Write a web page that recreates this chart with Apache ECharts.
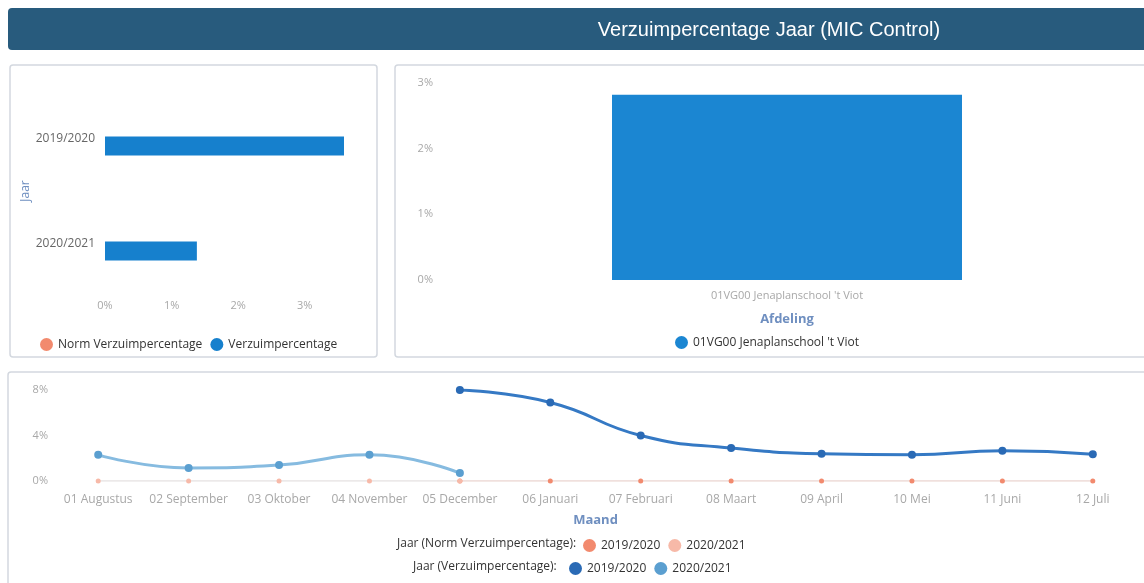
<!DOCTYPE html>
<html>
<head>
<meta charset="utf-8">
<script src="https://cdn.jsdelivr.net/npm/echarts@6/dist/echarts.min.js"></script>
<style>
    html, body { margin: 0; padding: 0; background: #fff; }
    #main { width: 1144px; height: 583px; }
</style>
</head>
<body>
<div id="main"></div>
<script>
var myChart = echarts.init(document.querySelector('#main'));

// verzuim per jaar
var jaren = ['2019/2020', '2020/2021'];
var normJaar = [0, 0];
var verzuimJaar = [3.59, 1.38];

// verzuim per afdeling
var afdelingen = ["01VG00 Jenaplanschool 't Viot"];
var verzuimAfdeling = [2.82];

// verzuim per maand
var maanden = ['01 Augustus', '02 September', '03 Oktober', '04 November', '05 December', '06 Januari',
    '07 Februari', '08 Maart', '09 April', '10 Mei', '11 Juni', '12 Juli'];
var verzuim1920 = [null, null, null, null, 8.0, 6.9, 4.0, 2.9, 2.4, 2.3, 2.65, 2.35];
var verzuim2021 = [2.3, 1.15, 1.4, 2.3, 0.7, null, null, null, null, null, null, null];
var norm1920 = [null, null, null, null, 0, 0, 0, 0, 0, 0, 0, 0];
var norm2021 = [0, 0, 0, 0, 0, null, null, null, null, null, null, null];

var font = '"Open Sans", sans-serif';
var labelGrey = '#a8a8a8';
var nameBlue = '#6f8fc0';

function stripPrefix(name) {
    return name.replace(/^(Norm|Verzuim) /, '');
}

function panel(x, y, w, h) {
    return {
        type: 'rect',
        z: -10,
        shape: { x: x, y: y, width: w, height: h, r: 3 },
        style: { fill: '#fff', stroke: '#d3d8df', lineWidth: 1.5 }
    };
}

var option = {
    backgroundColor: '#fff',
    textStyle: { fontFamily: font },
    graphic: [
        {
            type: 'rect',
            z: -10,
            shape: { x: 8, y: 8, width: 1150, height: 42, r: 4 },
            style: { fill: '#285b7d' }
        },
        panel(10, 65, 367, 292),
        panel(395, 65, 760, 292),
        panel(8, 372, 1150, 220)
    ],
    title: [
        {
            text: 'Verzuimpercentage Jaar (MIC Control)',
            left: 769, top: 20, textAlign: 'center', padding: 0,
            textStyle: { color: '#fff', fontSize: 20, fontWeight: 'normal', fontFamily: '"Liberation Sans", Arial, sans-serif' }
        },
        {
            text: 'Jaar (Norm Verzuimpercentage):',
            left: 397, top: 538, padding: 0,
            textStyle: { color: '#333', fontSize: 12, fontWeight: 'normal', fontFamily: font }
        },
        {
            text: 'Jaar (Verzuimpercentage):',
            left: 413, top: 561, padding: 0,
            textStyle: { color: '#333', fontSize: 12, fontWeight: 'normal', fontFamily: font }
        }
    ],
    legend: [
        {
            data: ['Norm Verzuimpercentage', 'Verzuimpercentage'],
            left: 40, top: 338, padding: 0,
            icon: 'circle', itemWidth: 13, itemHeight: 13, itemGap: 8,
            textStyle: { color: '#333', fontSize: 12 }
        },
        {
            data: afdelingen,
            left: 675, top: 336, padding: 0,
            icon: 'circle', itemWidth: 13, itemHeight: 13,
            textStyle: { color: '#333', fontSize: 12 }
        },
        {
            data: ['Norm 2019/2020', 'Norm 2020/2021'],
            left: 583, top: 539, padding: 0,
            icon: 'circle', itemWidth: 13, itemHeight: 13, itemGap: 8,
            formatter: stripPrefix,
            textStyle: { color: '#333', fontSize: 12 }
        },
        {
            data: ['Verzuim 2019/2020', 'Verzuim 2020/2021'],
            left: 569, top: 562, padding: 0,
            icon: 'circle', itemWidth: 13, itemHeight: 13, itemGap: 8,
            formatter: stripPrefix,
            textStyle: { color: '#333', fontSize: 12 }
        }
    ],
    grid: [
        { left: 105, top: 86, width: 239, height: 210 },
        { left: 441, top: 83, width: 692, height: 197 },
        { left: 53, top: 390, width: 1085, height: 91 }
    ],
    xAxis: [
        {
            gridIndex: 0,
            type: 'value',
            min: 0, max: 'dataMax', interval: 1,
            axisLine: { show: false }, axisTick: { show: false }, splitLine: { show: false },
            axisLabel: { formatter: '{value}%', color: labelGrey, fontSize: 11, margin: 4, showMaxLabel: false }
        },
        {
            gridIndex: 1,
            type: 'category',
            data: afdelingen,
            name: 'Afdeling', nameLocation: 'middle', nameGap: 33,
            nameTextStyle: { color: nameBlue, fontSize: 13, fontWeight: 'bold' },
            axisLine: { show: false }, axisTick: { show: false },
            axisLabel: { color: labelGrey, fontSize: 11, margin: 10 }
        },
        {
            gridIndex: 2,
            type: 'category',
            data: maanden,
            boundaryGap: true,
            name: 'Maand', nameLocation: 'middle', nameGap: 33,
            nameTextStyle: { color: nameBlue, fontSize: 13, fontWeight: 'bold' },
            axisLine: { show: false }, axisTick: { show: false },
            axisLabel: { color: labelGrey, fontSize: 12, margin: 13, interval: 0 }
        }
    ],
    yAxis: [
        {
            gridIndex: 0,
            type: 'category',
            data: jaren,
            inverse: true,
            name: 'Jaar', nameLocation: 'middle', nameGap: 71,
            nameTextStyle: { color: nameBlue, fontSize: 12 },
            axisLine: { show: false }, axisTick: { show: false },
            axisLabel: { color: '#666', fontSize: 12, margin: 10 }
        },
        {
            gridIndex: 1,
            type: 'value',
            min: 0, max: 3, interval: 1,
            axisLine: { show: false }, axisTick: { show: false }, splitLine: { show: false },
            axisLabel: { formatter: '{value}%', color: labelGrey, fontSize: 11, margin: 8 }
        },
        {
            gridIndex: 2,
            type: 'value',
            min: 0, max: 8, interval: 4,
            axisLine: { show: false }, axisTick: { show: false }, splitLine: { show: false },
            axisLabel: { formatter: '{value}%', color: labelGrey, fontSize: 11, margin: 5 }
        }
    ],
    series: [
        {
            name: 'Norm Verzuimpercentage',
            type: 'bar', xAxisIndex: 0, yAxisIndex: 0,
            data: normJaar,
            barWidth: 19, barGap: '-20%',
            itemStyle: { color: '#f28a6e' }
        },
        {
            name: 'Verzuimpercentage',
            type: 'bar', xAxisIndex: 0, yAxisIndex: 0,
            data: verzuimJaar,
            barWidth: 19, barGap: '-20%',
            itemStyle: { color: '#1680cd' }
        },
        {
            name: afdelingen[0],
            type: 'bar', xAxisIndex: 1, yAxisIndex: 1,
            data: verzuimAfdeling,
            barWidth: 350,
            itemStyle: { color: '#1b86d2' }
        },
        {
            name: 'Norm 2019/2020',
            type: 'line', xAxisIndex: 2, yAxisIndex: 2,
            data: norm1920,
            symbol: 'circle', symbolSize: 5,
            itemStyle: { color: '#f28a6e' },
            lineStyle: { color: '#ecd6d2', width: 1.5 }
        },
        {
            name: 'Norm 2020/2021',
            type: 'line', xAxisIndex: 2, yAxisIndex: 2,
            data: norm2021,
            symbol: 'circle', symbolSize: 5,
            itemStyle: { color: '#f7b9a8' },
            lineStyle: { color: '#e6e2e2', width: 1.5 }
        },
        {
            name: 'Verzuim 2019/2020',
            type: 'line', xAxisIndex: 2, yAxisIndex: 2,
            data: verzuim1920,
            smooth: true,
            symbol: 'circle', symbolSize: 8,
            itemStyle: { color: '#2a6ab5' },
            lineStyle: { color: '#3579c4', width: 3 }
        },
        {
            name: 'Verzuim 2020/2021',
            type: 'line', xAxisIndex: 2, yAxisIndex: 2,
            data: verzuim2021,
            smooth: true,
            symbol: 'circle', symbolSize: 8,
            itemStyle: { color: '#5b9fd0' },
            lineStyle: { color: '#86bbe0', width: 3 }
        }
    ]
};

myChart.setOption(option);
</script>
</body>
</html>
